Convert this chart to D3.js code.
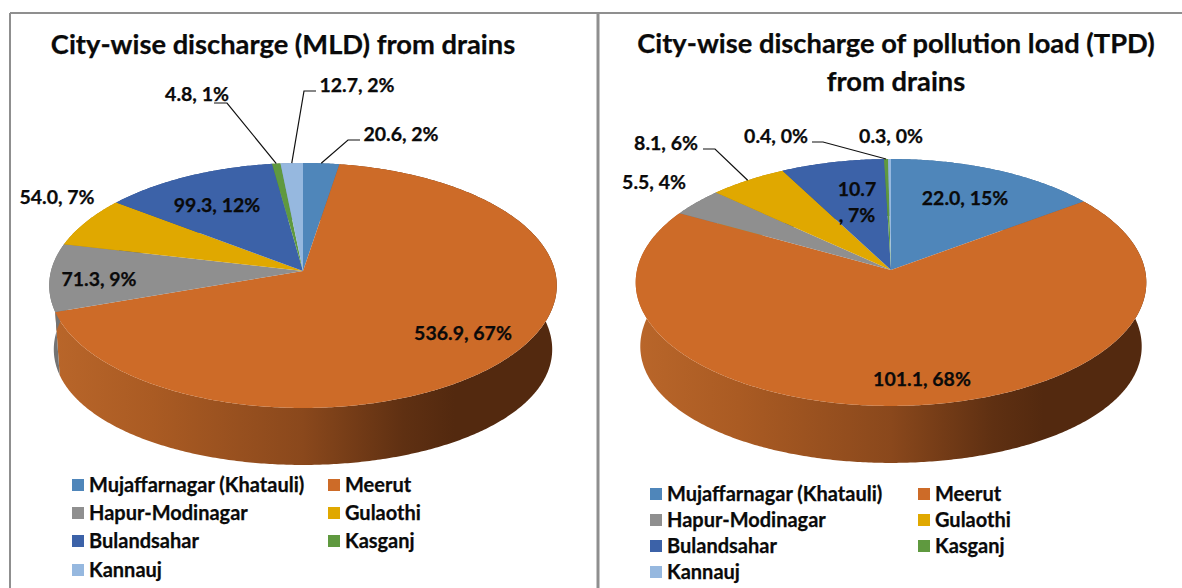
<!DOCTYPE html>
<html>
<head>
<meta charset="utf-8">
<script src="https://cdn.jsdelivr.net/npm/d3@7/dist/d3.min.js"></script>
<style>
html, body { margin: 0; padding: 0; background: #fff; }
svg { display: block; }
text { font-family: Lato, "Open Sans", sans-serif; font-weight: 700; fill: #0a0a0a; stroke: #0a0a0a; stroke-width: 0.25px; }
</style>
</head>
<body>
<svg width="1182" height="588"></svg>
<script>
var cities = ['Mujaffarnagar (Khatauli)', 'Meerut', 'Hapur-Modinagar', 'Gulaothi', 'Bulandsahar', 'Kasganj', 'Kannauj'];
var colors = ['#4f86ba', '#cd6b28', '#8f8f8f', '#e0a800', '#3c62a8', '#5f993f', '#96b8df'];

var dischargeValues = [20.6, 536.9, 71.3, 54.0, 99.3, 4.8, 12.7];
var dischargeShares = [2, 67, 9, 7, 12, 1, 2];

var loadValues = [22.0, 101.1, 5.5, 8.1, 10.7, 0.4, 0.3];
var loadShares = [15, 68, 4, 6, 7, 0, 0];

var svg = d3.select('svg');

// frame lines
var frame = [[10, 13, 10, 588, 2], [10, 13, 1182, 13, 2], [598, 13, 598, 588, 3]];
svg.selectAll('line.frame')
	.data(frame)
	.enter()
	.append('line')
	.attr('class', 'frame')
	.attr('x1', function(d) { return d[0]; })
	.attr('y1', function(d) { return d[1]; })
	.attr('x2', function(d) { return d[2]; })
	.attr('y2', function(d) { return d[3]; })
	.attr('stroke', '#8f8f8f')
	.attr('stroke-width', function(d) { return d[4]; });

var leftChart = {
	id: 'left',
	values: dischargeValues,
	shares: dischargeShares,
	titles: ['City-wise discharge (MLD) from drains'],
	titleX: 283,
	titleY: [44],
	cx: 303, cy: 271, rx: 252, ry: 120.8, k: 0.118, depth: 57,
	// label centres, some are split over two lines
	labels: [[401, 134], [463, 333], [99, 279], [57, 197], [217, 205], [197, 94], [357, 85]],
	// leader elbows, from the label side towards the slice
	leaders: {
		0: [[360, 140], [348, 140]],
		5: [[214, 103], [227, 103]],
		6: [[316, 91], [304, 91]]
	},
	legendX: [72, 328],
	legendY: [485, 513, 541, 570]
};

var rightChart = {
	id: 'right',
	values: loadValues,
	shares: loadShares,
	titles: ['City-wise discharge of pollution load (TPD)', 'from drains'],
	titleX: 896,
	titleY: [43, 81],
	cx: 891, cy: 270, rx: 254, ry: 122.2, k: 0.101, depth: 57,
	labels: [[965, 198], [922, 379], [654, 182], [666, 143], [857, 189], [776, 136], [891, 136]],
	leaders: {
		3: [[703, 149], [715, 149]],
		5: [[812, 142], [823, 142]]
	},
	legendX: [650, 918],
	legendY: [494, 520, 546, 572]
};

function drawChart(chart) {
	var g = svg.append('g').attr('class', 'chart-' + chart.id);

	var pie = d3.pie().sort(null)(chart.values);

	// project an angle on the tilted disc, the apex is off the ellipse centre
	function rim(angle) {
		var u = Math.sin(angle);
		var v = -Math.cos(angle);
		var w = 1 / (1 - chart.k * v);
		return [chart.cx + chart.rx * u * w, chart.cy + chart.ry * v * w];
	}

	// same rim, lower down and a little narrower; the wall looks taller at the flanks
	function lowerRim(angle) {
		var p = rim(angle);
		var u = Math.sin(angle);
		return [chart.cx + (p[0] - chart.cx) * 0.982, p[1] + chart.depth + 7 * u * u];
	}

	function anglesOf(d) {
		var n = Math.max(2, Math.ceil((d.endAngle - d.startAngle) / 0.01));
		return d3.range(n + 1).map(function(i) {
			return d.startAngle + (d.endAngle - d.startAngle) * i / n;
		});
	}

	var line = d3.line();

	// side wall gradient for the big slice
	var grad = svg.append('defs').append('linearGradient')
		.attr('id', 'wall-' + chart.id)
		.attr('gradientUnits', 'userSpaceOnUse')
		.attr('x1', chart.cx - chart.rx).attr('x2', chart.cx + chart.rx)
		.attr('y1', 0).attr('y2', 0);
	var wallStops = [[0, '#b9662a'], [0.2, '#aa5b23'], [0.5, '#8a481c'], [0.7, '#5f3012'], [0.8, '#53290f'], [1, '#53290f']];
	grad.selectAll('stop')
		.data(wallStops)
		.enter()
		.append('stop')
		.attr('offset', function(d) { return d[0]; })
		.attr('stop-color', function(d) { return d[1]; });

	// walls first so the top covers the hidden part
	g.append('g').selectAll('path')
		.data(pie)
		.enter()
		.append('path')
		.attr('d', function(d) {
			var angles = anglesOf(d);
			return line(angles.map(rim).concat(angles.slice().reverse().map(lowerRim))) + 'Z';
		})
		.attr('fill', function(d, i) {
			if (i == 1) return 'url(#wall-' + chart.id + ')';
			return d3.color(colors[i]).darker(0.6);
		});

	// top of the disc
	g.append('g').selectAll('path')
		.data(pie)
		.enter()
		.append('path')
		.attr('d', function(d) {
			return line([[chart.cx, chart.cy]].concat(anglesOf(d).map(rim))) + 'Z';
		})
		.attr('fill', function(d, i) { return colors[i]; });

	// leader lines
	Object.keys(chart.leaders).forEach(function(key) {
		var d = pie[+key];
		var end = rim((d.startAngle + d.endAngle) / 2);
		g.append('path')
			.attr('d', line(chart.leaders[key].concat([end])))
			.attr('fill', 'none')
			.attr('stroke', '#111')
			.attr('stroke-width', 1.2);
	});

	// titles
	g.selectAll('text.title')
		.data(chart.titles)
		.enter()
		.append('text')
		.attr('class', 'title')
		.attr('x', chart.titleX)
		.attr('y', function(d, i) { return chart.titleY[i]; })
		.attr('dy', '0.35em')
		.attr('text-anchor', 'middle')
		.style('font-size', '27.3px')
		.text(function(d) { return d; });

	// data labels
	g.selectAll('text.label')
		.data(pie)
		.enter()
		.append('text')
		.attr('class', 'label')
		.attr('x', function(d, i) { return chart.labels[i][0]; })
		.attr('y', function(d, i) { return chart.labels[i][1]; })
		.attr('dy', '0.35em')
		.attr('text-anchor', 'middle')
		.style('font-size', '19.5px')
		.each(function(d, i) {
			var value = d.data.toFixed(1);
			var share = chart.shares[i] + '%';
			// the 10.7 label wraps in the slice
			if (chart.id == 'right' && i == 4) {
				d3.select(this).append('tspan').text(value);
				d3.select(this).append('tspan')
					.attr('x', chart.labels[i][0])
					.attr('dy', 26)
					.text(', ' + share);
			} else {
				d3.select(this).text(value + ', ' + share);
			}
		});

	// legend, two columns
	var legend = g.selectAll('g.legend')
		.data(cities)
		.enter()
		.append('g')
		.attr('class', 'legend')
		.attr('transform', function(d, i) {
			return 'translate(' + [chart.legendX[i % 2], chart.legendY[Math.floor(i / 2)]] + ')';
		});

	legend.append('rect')
		.attr('x', 0)
		.attr('y', -6)
		.attr('width', 12)
		.attr('height', 12)
		.attr('fill', function(d, i) { return colors[i]; });

	legend.append('text')
		.attr('x', 17)
		.attr('dy', '0.35em')
		.style('font-size', '20px')
		.text(function(d) { return d; });
}

drawChart(leftChart);
drawChart(rightChart);
</script>
</body>
</html>
